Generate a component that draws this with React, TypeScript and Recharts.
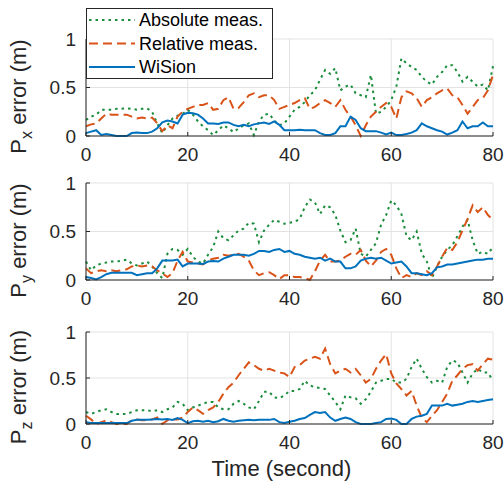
import { LineChart, Line, XAxis, YAxis, CartesianGrid, Legend, Label } from 'recharts';

// time in seconds, one sample per second
const time = Array.from({ length: 81 }, (_, i) => i);
const xTicks = [0, 20, 40, 60, 80];
const yTicks = [0, 0.5, 1];

// P_x error
const absX = [0.165, 0.2, 0.22, 0.27, 0.27, 0.27, 0.28, 0.28, 0.285, 0.28, 0.27, 0.28, 0.285, 0.25, 0.13, 0.03, 0.11, 0.18, 0.21, 0.23, 0.27, 0.22, 0.15, 0.1, 0.06, 0.01, 0.06, 0.11, 0.08, 0.04, 0.08, 0.11, 0.13, 0.01, 0.15, 0.22, 0.23, 0.16, 0.11, 0.13, 0.2, 0.27, 0.3, 0.35, 0.42, 0.47, 0.58, 0.68, 0.64, 0.7, 0.47, 0.51, 0.53, 0.44, 0.42, 0.4, 0.63, 0.23, 0.25, 0.3, 0.37, 0.51, 0.8, 0.75, 0.71, 0.68, 0.61, 0.56, 0.53, 0.61, 0.66, 0.73, 0.73, 0.66, 0.56, 0.61, 0.56, 0.51, 0.53, 0.47, 0.72];
const relX = [0.1, 0.12, 0.13, 0.18, 0.23, 0.22, 0.22, 0.22, 0.22, 0.2, 0.18, 0.19, 0.18, 0.19, 0.13, 0.05, 0.11, 0.08, 0.2, 0.25, 0.28, 0.3, 0.32, 0.32, 0.34, 0.27, 0.28, 0.37, 0.4, 0.28, 0.29, 0.35, 0.42, 0.44, 0.4, 0.42, 0.42, 0.37, 0.28, 0.3, 0.32, 0.34, 0.37, 0.39, 0.28, 0.3, 0.34, 0.37, 0.34, 0.3, 0.37, 0.27, 0.2, 0.11, 0.0, 0.11, 0.2, 0.25, 0.3, 0.34, 0.3, 0.18, 0.4, 0.46, 0.44, 0.39, 0.3, 0.37, 0.4, 0.44, 0.47, 0.49, 0.42, 0.4, 0.32, 0.23, 0.3, 0.37, 0.39, 0.47, 0.63];
const wiX = [0.03, 0.045, 0.06, 0.01, 0.02, 0.01, 0, 0, 0, 0.03, 0.035, 0.03, 0.03, 0.045, 0.08, 0.14, 0.16, 0.15, 0.13, 0.22, 0.24, 0.235, 0.22, 0.18, 0.13, 0.13, 0.125, 0.14, 0.14, 0.115, 0.1, 0.115, 0.1, 0.12, 0.13, 0.14, 0.125, 0.15, 0.115, 0.06, 0.06, 0.06, 0.065, 0.06, 0.06, 0.06, 0.03, 0.01, 0.01, 0.03, 0.1, 0.1, 0.2, 0.165, 0.08, 0.05, 0.05, 0.05, 0.035, 0.015, 0.035, 0.01, 0.01, 0.02, 0.035, 0.06, 0.13, 0.1, 0.08, 0.06, 0.045, 0.015, 0.035, 0.06, 0.15, 0.08, 0.1, 0.1, 0.14, 0.1, 0.1];

// P_y error
const absY = [0.19, 0.1, 0.15, 0.17, 0.18, 0.19, 0.19, 0.2, 0.21, 0.17, 0.15, 0.17, 0.19, 0.14, 0.07, 0.02, 0.27, 0.32, 0.31, 0.26, 0.32, 0.24, 0.19, 0.17, 0.26, 0.34, 0.5, 0.43, 0.41, 0.46, 0.51, 0.53, 0.59, 0.58, 0.39, 0.51, 0.57, 0.62, 0.6, 0.58, 0.59, 0.6, 0.63, 0.75, 0.83, 0.8, 0.68, 0.77, 0.75, 0.67, 0.51, 0.39, 0.41, 0.53, 0.27, 0.24, 0.31, 0.38, 0.57, 0.67, 0.82, 0.77, 0.68, 0.45, 0.41, 0.5, 0.27, 0.19, 0.02, 0.14, 0.24, 0.31, 0.36, 0.45, 0.55, 0.62, 0.41, 0.27, 0.29, 0.27, 0.34];
const relY = [0.12, 0.07, 0.09, 0.1, 0.09, 0.1, 0.09, 0.1, 0.11, 0.14, 0.15, 0.14, 0.15, 0.14, 0.1, 0.07, 0.03, 0.07, 0.2, 0.29, 0.19, 0.18, 0.17, 0.16, 0.2, 0.22, 0.23, 0.26, 0.25, 0.26, 0.27, 0.24, 0.2, 0.1, 0.05, 0.07, 0.08, 0.05, 0.01, 0.05, 0.05, 0.03, 0.03, 0.02, 0.0, 0.09, 0.2, 0.26, 0.19, 0.19, 0.2, 0.24, 0.27, 0.26, 0.31, 0.2, 0.14, 0.2, 0.29, 0.32, 0.26, 0.12, 0.02, 0.05, 0.03, 0.07, 0.05, 0.09, 0.05, 0.14, 0.24, 0.33, 0.31, 0.39, 0.51, 0.63, 0.77, 0.7, 0.75, 0.67, 0.62];
const wiY = [0.03, 0.02, 0.005, 0.03, 0.06, 0.075, 0.075, 0.075, 0.075, 0.075, 0.05, 0.06, 0.07, 0.07, 0.12, 0.2, 0.2, 0.2, 0.21, 0.14, 0.17, 0.17, 0.17, 0.165, 0.19, 0.195, 0.19, 0.22, 0.24, 0.26, 0.26, 0.26, 0.25, 0.27, 0.3, 0.3, 0.29, 0.31, 0.32, 0.29, 0.3, 0.27, 0.26, 0.24, 0.23, 0.22, 0.23, 0.2, 0.22, 0.19, 0.19, 0.12, 0.12, 0.14, 0.2, 0.22, 0.23, 0.22, 0.23, 0.2, 0.17, 0.18, 0.19, 0.14, 0.07, 0.07, 0.06, 0.05, 0.07, 0.13, 0.14, 0.16, 0.16, 0.17, 0.18, 0.19, 0.2, 0.21, 0.21, 0.22, 0.22];

// P_z error
const absZ = [0.13, 0.11, 0.13, 0.15, 0.16, 0.13, 0.11, 0.11, 0.11, 0.13, 0.15, 0.15, 0.15, 0.14, 0.15, 0.13, 0.16, 0.18, 0.24, 0.22, 0.15, 0.18, 0.2, 0.22, 0.24, 0.24, 0.18, 0.16, 0.16, 0.22, 0.25, 0.22, 0.18, 0.16, 0.25, 0.35, 0.35, 0.29, 0.28, 0.31, 0.36, 0.36, 0.38, 0.47, 0.42, 0.4, 0.39, 0.38, 0.31, 0.24, 0.16, 0.31, 0.29, 0.28, 0.22, 0.27, 0.35, 0.45, 0.47, 0.49, 0.49, 0.45, 0.45, 0.49, 0.62, 0.71, 0.6, 0.51, 0.45, 0.47, 0.45, 0.62, 0.69, 0.67, 0.56, 0.45, 0.55, 0.6, 0.56, 0.56, 0.47];
const relZ = [0.09, 0.05, 0.0, 0.02, 0.04, 0.02, 0.0, 0.0, 0.0, 0.04, 0.05, 0.04, 0.04, 0.05, 0.07, 0.0, 0.04, 0.05, 0.05, 0.07, 0.13, 0.18, 0.15, 0.11, 0.15, 0.18, 0.24, 0.33, 0.4, 0.45, 0.53, 0.6, 0.67, 0.64, 0.6, 0.58, 0.6, 0.58, 0.56, 0.55, 0.51, 0.62, 0.64, 0.69, 0.71, 0.73, 0.71, 0.82, 0.65, 0.55, 0.58, 0.6, 0.56, 0.6, 0.53, 0.45, 0.49, 0.6, 0.69, 0.76, 0.55, 0.44, 0.38, 0.31, 0.36, 0.2, 0.07, 0.02, 0.09, 0.15, 0.24, 0.33, 0.47, 0.53, 0.6, 0.64, 0.65, 0.58, 0.65, 0.71, 0.7];
const wiZ = [0.02, 0.01, 0.01, 0.01, 0.01, 0.01, 0.01, 0.01, 0.01, 0.035, 0.045, 0.045, 0.045, 0.05, 0.055, 0.05, 0.055, 0.045, 0.065, 0.045, 0.01, 0.03, 0.035, 0.025, 0.035, 0.02, 0.03, 0.055, 0.035, 0.025, 0.035, 0.04, 0.045, 0.04, 0.045, 0.045, 0.045, 0.055, 0.02, 0.01, 0.025, 0.035, 0.055, 0.065, 0.1, 0.13, 0.12, 0.13, 0.07, 0.035, 0.055, 0.07, 0.055, 0.02, 0, 0, 0, 0.01, 0.02, 0.055, 0.06, 0.045, 0, 0, 0.055, 0.08, 0.09, 0.11, 0.2, 0.2, 0.2, 0.22, 0.2, 0.21, 0.22, 0.24, 0.25, 0.24, 0.25, 0.26, 0.27];

const SERIES = [
  { key: 'abs', name: 'Absolute meas.', color: '#1a8c3c', dash: '2.5 4' },
  { key: 'rel', name: 'Relative meas.', color: '#d95319', dash: '9 5' },
  { key: 'wi', name: 'WiSion', color: '#0072bd', dash: undefined },
];

const AXIS = '#262626';
const FONT = '"Liberation Sans", Arial, sans-serif';

const rows = (a: number[], r: number[], w: number[]) =>
  time.map((t, i) => ({ t, abs: a[i], rel: r[i], wi: w[i] }));

const renderLegend = () => (
  <div style={{ width: 187, height: 71, boxSizing: 'border-box', border: `1px solid ${AXIS}`, background: '#fff' }}>
    <svg width={185} height={69}>
      {SERIES.map((s, i) => (
        <g key={s.key}>
          <line x1={2} x2={48} y1={11 + i * 23.5} y2={11 + i * 23.5} stroke={s.color} strokeWidth={2} strokeDasharray={s.dash} />
          <text x={52} y={11 + i * 23.5} dy="0.35em" fontSize={18} fontFamily={FONT} fill="#000">{s.name}</text>
        </g>
      ))}
    </svg>
  </div>
);

function Panel({ data, sub, top, height, marginTop, plotH, legend, xlabel }: any) {
  const xh = height - marginTop - plotH;
  return (
    <div style={{ position: 'absolute', left: 0, top, width: 504, height }}>
      <LineChart width={504} height={height} data={data} margin={{ top: marginTop, right: 11, bottom: 0, left: 0 }}>
        <CartesianGrid stroke="#e3e3e3" />
        <XAxis dataKey="t" type="number" domain={[0, 80]} ticks={xTicks} height={xh}
          tickSize={-4} tickMargin={16} axisLine={{ stroke: AXIS }} tickLine={{ stroke: AXIS }}
          tick={{ fill: AXIS, fontSize: 19, fontFamily: FONT }}>
          {xlabel && (
            <Label content={({ viewBox }: any) => (
              <text x={viewBox.x + viewBox.width / 2 - 8} y={viewBox.y + 52} textAnchor="middle"
                fontSize={22} fontFamily={FONT} fill={AXIS}>Time (second)</text>
            )} />
          )}
        </XAxis>
        <XAxis xAxisId="top" orientation="top" dataKey="t" type="number" domain={[0, 80]} height={0}
          tick={false} axisLine={{ stroke: AXIS }} />
        <YAxis type="number" domain={[0, 1]} ticks={yTicks} width={86} tickSize={-4} tickMargin={14}
          axisLine={{ stroke: AXIS }} tickLine={{ stroke: AXIS }}
          tick={{ fill: AXIS, fontSize: 19, fontFamily: FONT }}>
          <Label content={({ viewBox }: any) => {
            const x = viewBox.x + 26;
            const y = viewBox.y + viewBox.height / 2 + 9;
            return (
              <text x={x} y={y} transform={`rotate(-90, ${x}, ${y})`} textAnchor="middle"
                fontSize={22} fontFamily={FONT} fill={AXIS}>
                <tspan>P</tspan>
                <tspan dy={6} fontSize={16}>{sub}</tspan>
                <tspan dy={-6}> error (m)</tspan>
              </text>
            );
          }} />
        </YAxis>
        <YAxis yAxisId="right" orientation="right" type="number" domain={[0, 1]} width={0}
          tick={false} axisLine={{ stroke: AXIS }} />
        {SERIES.map((s) => (
          <Line key={s.key} type="linear" dataKey={s.key} name={s.name} stroke={s.color} strokeWidth={2}
            strokeDasharray={s.dash} dot={false} activeDot={false} isAnimationActive={false} />
        ))}
        {legend && (
          <Legend layout="vertical" align="center" verticalAlign="middle" content={renderLegend}
            wrapperStyle={{ position: 'absolute', left: 86, top: 8, width: 187, height: 71 }} />
        )}
      </LineChart>
    </div>
  );
}

export default function App() {
  return (
    <div style={{ position: 'absolute', left: 0, top: 0, width: 504, height: 482, background: '#fff', fontFamily: FONT }}>
      <Panel data={rows(absX, relX, wiX)} sub="x" top={0} height={165} marginTop={39} plotH={97} legend />
      <Panel data={rows(absY, relY, wiY)} sub="y" top={160} height={150} marginTop={23} plotH={97} />
      <Panel data={rows(absZ, relZ, wiZ)} sub="z" top={310} height={172} marginTop={22} plotH={92} xlabel />
    </div>
  );
}
